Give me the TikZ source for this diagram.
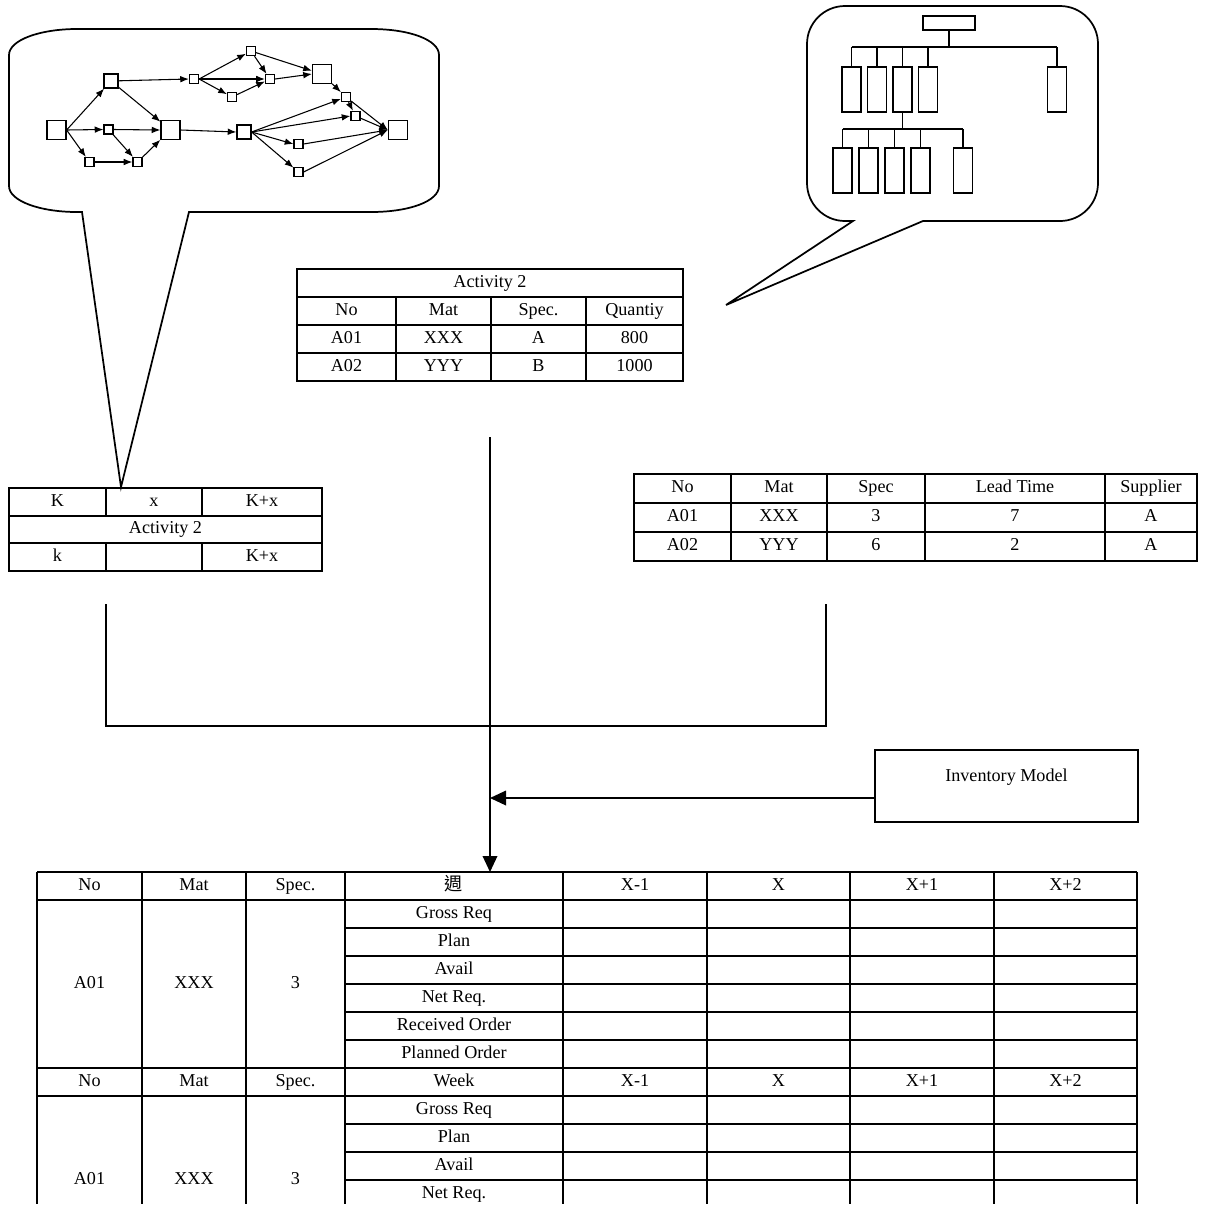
\documentclass[tikz,border=0pt]{standalone}
\usepackage{fontspec}
\setmainfont{Liberation Serif}
\newfontfamily\cjkfont{Noto Sans CJK TC}
\usetikzlibrary{arrows.meta,positioning,calc}
\newcommand{\tabfont}{\fontsize{13.6}{16}\selectfont}
\tikzset{
  bubble/.style={line width=1.3pt, line join=miter},
  net box/.style={draw, line width=0.9pt, inner sep=0pt, minimum size=6.75pt},
  net mid/.style={net box, minimum size=10.5pt},
  net big/.style={net box, minimum size=14.25pt},
  net arrow/.style={-{Latex[length=6.5pt,width=5pt]}, line width=0.8pt},
  org box/.style={draw, line width=1pt, inner sep=0pt, minimum width=14.25pt, minimum height=33.75pt},
  org line/.style={line width=1pt},
  grid line/.style={line width=1.2pt},
  cell/.style={inner sep=0pt, font=\tabfont, text height=9.5pt, text depth=3pt},
  bus/.style={line width=1pt},
  bus arrow/.style={bus, -{Triangle[length=12pt,width=11pt]}},
}

\begin{document}
\begin{tikzpicture}[x=0.75pt,y=-0.75pt]
  \useasboundingbox (0,0) rectangle (1213,1204);

  % network callout
  \draw[bubble] (77,29) -- (371,29) .. controls (410,29) and (439,40) .. (439,55)
    -- (439,186) .. controls (439,201) and (410,212) .. (371,212)
    -- (189,212) -- (121,487) -- (82,212) -- (77,212)
    .. controls (40,212) and (9,201) .. (9,186)
    -- (9,55) .. controls (9,40) and (40,29) .. (77,29) -- cycle;

  \node[net big] (n1) at (56.5,130) {};
  \node[net mid] (n2) at (111,81) {};
  \node[net box] (n3) at (108.5,129.5) {};
  \node[net box] (n4) at (89.5,162) {};
  \node[net box] (n5) at (137.5,162) {};
  \node[net big] (n6) at (170.5,130) {};
  \node[net box] (n7) at (194,79) {};
  \node[net box] (n8) at (251,51) {};
  \node[net box] (n9) at (270,79) {};
  \node[net box] (n10) at (232,97) {};
  \node[net big] (n11) at (322,74) {};
  \node[net mid] (n12) at (244,132) {};
  \node[net box] (n13) at (346,97) {};
  \node[net box] (n14) at (355.5,116) {};
  \node[net box] (n15) at (298.5,144) {};
  \node[net box] (n16) at (298.5,172) {};
  \node[net big] (n17) at (398,130) {};

  \foreach \a/\b in {n1.east/n2, n1.east/n3.west, n1.east/n4, n2/n7.west, n2/n6,
      n3.east/n6.west, n3/n5, n4.east/n5.west, n5/n6, n6.east/n12.west,
      n7.east/n8, n7.east/n9.west, n7.east/n10, n8/n9, n8/n11, n10/n9,
      n9.east/n11.west, n11/n13, n13/n14, n13/n17.west, n14/n17.west,
      n12.east/n13, n12.east/n14.west, n12.east/n15.west, n12.east/n16,
      n15.east/n17.west, n16.east/n17.west}
    \draw[net arrow] (\a) -- (\b);

  % organisation callout
  \draw[bubble] (845,6) -- (1060,6) .. controls (1081,6) and (1098,23) .. (1098,44)
    -- (1098,183) .. controls (1098,204) and (1081,221) .. (1060,221)
    -- (923,221) -- (726,305) -- (853,221) -- (845,221)
    .. controls (824,221) and (807,204) .. (807,183)
    -- (807,44) .. controls (807,23) and (824,6) .. (845,6) -- cycle;

  \node[draw, org line, inner sep=0pt, minimum width=39pt, minimum height=10.5pt] (root) at (949,23) {};
  \coordinate (bar1) at (851.5,47);
  \coordinate (bar1 end) at (1057,47);
  \foreach \x [count=\i] in {851.5,877,902.5,928,1057}
    \node[org box] (a\i) at (\x,89.5) {};
  \coordinate (bar2) at (842.5,129);
  \coordinate (bar2 end) at (963,129);
  \foreach \x [count=\i] in {842.5,868.5,894.5,920.5,963}
    \node[org box] (b\i) at (\x,170.5) {};

  \draw[org line] (bar1) -- (bar1 end);
  \draw[org line] (root.south) -- (root.south |- bar1);
  \foreach \i in {1,...,5}
    \draw[org line] (a\i.north) -- (a\i.north |- bar1);
  \draw[org line] (bar2) -- (bar2 end);
  \draw[org line] (a3.south) -- (a3.south |- bar2);
  \foreach \i in {1,...,5}
    \draw[org line] (b\i.north) -- (b\i.north |- bar2);

  % activity material table
  \draw[grid line] (297,269) rectangle (683,381);
  \foreach \y in {297,325,353} \draw[grid line] (297,\y) -- (683,\y);
  \foreach \x in {396,491,586} \draw[grid line] (\x,297) -- (\x,381);
  \node[cell] (mt title) at (490,283) {Activity 2};
  \foreach \x/\a/\b/\c [count=\i] in {346.5/No/A01/A02, 443.5/Mat/XXX/YYY,
      538.5/Spec./A/B, 634.5/Quantiy/800/1000} {
    \node[cell] (mt h\i) at (\x,311) {\a};
    \node[cell] (mt a\i) at (\x,339) {\b};
    \node[cell] (mt b\i) at (\x,367) {\c};
  }

  % schedule table
  \draw[grid line] (9,488) rectangle (322,571);
  \foreach \y in {516,543} \draw[grid line] (9,\y) -- (322,\y);
  \foreach \x in {106,202} {
    \draw[grid line] (\x,488) -- (\x,516);
    \draw[grid line] (\x,543) -- (\x,571);
  }
  \node[cell] (lt k) at (57.5,502) {K};
  \node[cell] (lt x) at (154,502) {x};
  \node[cell] (lt kx) at (262,502) {K+x};
  \node[cell] (lt act) at (165.5,529.5) {Activity 2};
  \node[cell] (lt k2) at (57.5,557) {k};
  \node[cell] (lt kx2) at (262,557) {K+x};

  % material master table
  \draw[grid line] (634,474) rectangle (1197,561);
  \foreach \y in {503,532} \draw[grid line] (634,\y) -- (1197,\y);
  \foreach \x in {731,827,925,1105} \draw[grid line] (\x,474) -- (\x,561);
  \foreach \x/\a/\b/\c [count=\i] in {682.5/No/A01/A02, 779/Mat/XXX/YYY,
      876/Spec/3/6, 1015/Lead Time/7/2, 1151/Supplier/A/A} {
    \node[cell] (rt h\i) at (\x,488.5) {\a};
    \node[cell] (rt a\i) at (\x,517.5) {\b};
    \node[cell] (rt b\i) at (\x,546.5) {\c};
  }

  % connectors
  \coordinate (mt out) at (490,437);
  \coordinate (lt out) at (106,604);
  \coordinate (rt out) at (826,604);
  \coordinate (bus) at (466,726);
  \coordinate (mrp top) at (490,872);
  \coordinate (join) at (490,798);
  \draw[bus] (lt out) |- (bus) -| (rt out);
  \draw[bus arrow] (mt out) -- (mrp top);

  \node[draw, bus, inner sep=0pt, minimum width=197.25pt, minimum height=54pt,
        font=\tabfont, text height=9.5pt, text depth=16pt] (inv) at (1006.5,786) {Inventory Model};
  \draw[bus arrow] (inv.west |- join) -- (join);

  % MRP table
  \draw[grid line] (37,872) -- (1137,872);
  \foreach \y in {900,1068,1096} \draw[grid line] (37,\y) -- (1137,\y);
  \foreach \y in {928,956,984,1012,1040,1124,1152,1180} \draw[grid line] (345,\y) -- (1137,\y);
  \foreach \x in {37,142,246,345,563,707,850,994,1137} \draw[grid line] (\x,872) -- (\x,1204);

  \foreach \x/\t [count=\i] in {89.5/No,194/Mat,295.5/Spec.,635/X-1,778.5/X,922/X+1,1065.5/X+2} {
    \node[cell] (h1-\i) at (\x,886) {\t};
    \node[cell] (h2-\i) at (\x,1082) {\t};
  }
  \node[cell] (h1-wk) at (454,886) {\cjkfont 週};
  \node[cell] (h2-wk) at (454,1082) {Week};
  \foreach \t [count=\i] in {Gross Req,Plan,Avail,Net Req.,Received Order,Planned Order}
    \node[cell] (r1-\i) at (454,{886+28*\i}) {\t};
  \foreach \t [count=\i] in {Gross Req,Plan,Avail,Net Req.}
    \node[cell] (r2-\i) at (454,{1082+28*\i}) {\t};
  \foreach \x/\t [count=\i] in {89.5/A01,194/XXX,295.5/3} {
    \node[cell] (m1-\i) at (\x,984) {\t};
    \node[cell] (m2-\i) at (\x,1180) {\t};
  }
\end{tikzpicture}
\end{document}
